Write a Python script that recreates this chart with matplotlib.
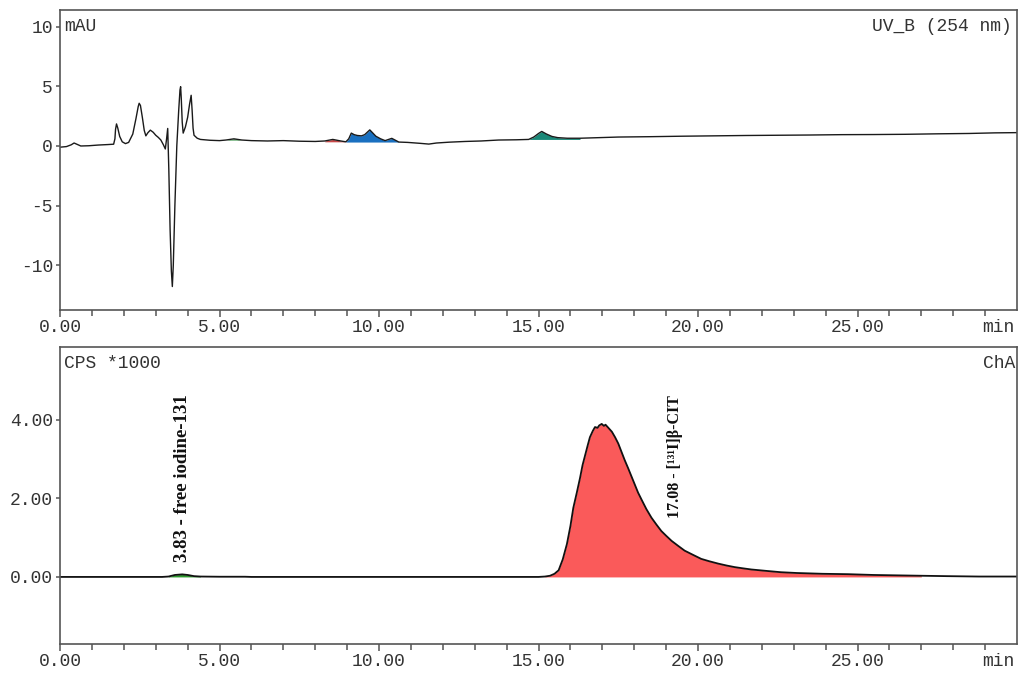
import numpy as np
import matplotlib
matplotlib.use("Agg")
import matplotlib.pyplot as plt

# UV trace (254 nm), time in min, signal in mAU
uv_time = [0.00, 0.20, 0.35, 0.44, 0.55, 0.65, 0.90, 1.20, 1.50, 1.68, 1.72, 1.74, 1.77, 1.81, 1.87,
           1.95, 2.05, 2.15, 2.28, 2.38, 2.45, 2.48, 2.52, 2.58, 2.64, 2.69, 2.75, 2.83, 2.92, 3.00,
           3.08, 3.16, 3.24, 3.30, 3.34, 3.375, 3.41, 3.45, 3.49, 3.52, 3.55, 3.60, 3.66, 3.72, 3.76,
           3.78, 3.80, 3.83, 3.86, 3.93, 4.00, 4.06, 4.11, 4.14, 4.17, 4.20, 4.30, 4.40, 4.70, 5.00,
           5.20, 5.45, 5.70, 6.00, 6.50, 7.00, 7.50, 8.00, 8.30, 8.55, 8.80, 8.96, 9.05, 9.13, 9.22,
           9.32, 9.45, 9.55, 9.65, 9.71, 9.80, 9.90, 10.05, 10.19, 10.30, 10.40, 10.50, 10.62, 10.90,
           11.30, 11.56, 11.80, 12.20, 12.70, 13.20, 13.75, 14.30, 14.69, 14.85, 15.00, 15.10, 15.25,
           15.42, 15.60, 15.90, 16.30, 16.90, 17.50, 18.50, 19.50, 20.50, 21.50, 22.50, 23.50, 24.50,
           25.50, 26.50, 27.50, 28.50, 29.30, 30.00]
uv_mau = [-0.10, -0.05, 0.10, 0.25, 0.12, 0.00, 0.02, 0.08, 0.12, 0.15, 0.60, 1.40, 1.85, 1.50, 0.80,
          0.35, 0.20, 0.30, 1.00, 2.30, 3.30, 3.58, 3.40, 2.40, 1.30, 0.85, 1.10, 1.33, 1.15, 0.90,
          0.72, 0.50, 0.10, -0.25, 0.60, 1.47, -2.00, -7.00, -10.50, -11.78, -10.00, -5.00, 0.00, 3.00, 4.70,
          4.97, 4.00, 2.00, 1.08, 1.60, 2.40, 3.50, 4.25, 3.00, 1.50, 0.90, 0.65, 0.55, 0.48, 0.45,
          0.50, 0.60, 0.50, 0.45, 0.42, 0.45, 0.40, 0.38, 0.42, 0.55, 0.42, 0.35, 0.60, 1.08, 0.95,
          0.88, 0.85, 0.95, 1.20, 1.35, 1.10, 0.82, 0.60, 0.45, 0.55, 0.64, 0.50, 0.33, 0.30,
          0.22, 0.16, 0.25, 0.32, 0.38, 0.42, 0.50, 0.52, 0.55, 0.75, 1.05, 1.22, 1.00,
          0.80, 0.70, 0.65, 0.65, 0.70, 0.75, 0.78, 0.82, 0.85, 0.88, 0.90, 0.92, 0.95,
          0.96, 0.98, 1.02, 1.05, 1.10, 1.12]

# integrated UV peaks: (start, end, colour)
uv_peaks = [(5.20, 5.70, "#2a8a3a"), (8.30, 8.96, "#c84848"),
            (8.96, 10.62, "#1a70c0"), (14.69, 16.30, "#1a8878")]

# radio trace, CPS * 1000
rad_time = [0.0, 3.2, 3.4, 3.6, 3.83, 4.0, 4.2, 4.4, 5.0, 5.8, 6.0, 15.0, 15.2, 15.36, 15.5,
            15.63, 15.76, 15.89, 16.0, 16.09, 16.2, 16.30, 16.38, 16.46, 16.54, 16.61, 16.70,
            16.77, 16.85, 16.90, 16.98, 17.05, 17.10, 17.19, 17.30, 17.40, 17.50, 17.60, 17.70,
            17.81, 17.92, 18.02, 18.12, 18.23, 18.38, 18.54, 18.70, 18.85, 19.0, 19.17, 19.38,
            19.58, 19.85, 20.10, 20.35, 20.63, 20.9, 21.15, 21.4, 21.67, 22.19, 22.6, 23.1, 23.9,
            24.7, 25.5, 26.25, 27.0, 27.8, 28.8, 30.0]
rad_cps = [0.0, 0.0, 0.01, 0.05, 0.065, 0.05, 0.02, 0.01, 0.005, 0.005, 0.0, 0.0, 0.01, 0.03, 0.08,
           0.17, 0.45, 0.84, 1.30, 1.76, 2.15, 2.52, 2.85, 3.10, 3.35, 3.56, 3.72,
           3.82, 3.80, 3.86, 3.90, 3.85, 3.88, 3.80, 3.70, 3.56, 3.40, 3.19, 2.98,
           2.77, 2.55, 2.35, 2.15, 1.97, 1.73, 1.51, 1.33, 1.17, 1.05, 0.92, 0.79,
           0.67, 0.56, 0.46, 0.40, 0.34, 0.29, 0.25, 0.22, 0.19, 0.15, 0.12, 0.10, 0.08,
           0.07, 0.05, 0.04, 0.03, 0.02, 0.01, 0.01]

rad_peaks = [(3.3, 4.4, "#2e9a2e"), (15.2, 27.0, "#fa5a5a")]

x_major = [0, 5, 10, 15, 20, 25]
x_labels = ["0.00", "5.00", "10.00", "15.00", "20.00", "25.00"]

plt.rcParams["axes.unicode_minus"] = False
mono = "Liberation Mono"
txt_col = "#333333"
frame_col = "#555555"
fs = 13


def style_axis(ax):
    for s in ax.spines.values():
        s.set_color(frame_col)
        s.set_linewidth(1.2)
    ax.set_xlim(0, 30)
    ax.set_xticks(x_major)
    ax.set_xticklabels(x_labels)
    ax.set_xticks(range(0, 30), minor=True)
    ax.tick_params(axis="x", which="major", length=5, width=1.1, color=frame_col, pad=1.5)
    ax.tick_params(axis="x", which="minor", length=4, width=1.1, color=frame_col)
    ax.tick_params(axis="y", length=3, width=1.1, color=frame_col, pad=2)
    ax.tick_params(labelsize=fs, labelcolor=txt_col)
    for lab in ax.get_xticklabels() + ax.get_yticklabels():
        lab.set_family(mono)
    ax.annotate("min", xy=(30, 0), xycoords=("data", "axes fraction"),
                xytext=(-2, -6.5), textcoords="offset points", ha="right", va="top",
                fontsize=fs, color=txt_col, family=mono)


fig = plt.figure(figsize=(10.3, 6.75), dpi=100)
ax1 = fig.add_axes([0.0583, 0.5407, 0.9291, 0.4445])
ax2 = fig.add_axes([0.0583, 0.0459, 0.9291, 0.4400])

t1 = np.array(uv_time)
v1 = np.array(uv_mau)
for a, b, c in uv_peaks:
    m = (t1 >= a) & (t1 <= b)
    base = min(v1[m][0], v1[m][-1])
    ax1.fill_between(t1[m], v1[m], base, color=c, lw=0)
ax1.plot(t1, v1, color="#1a1a1a", lw=1.0)
ax1.set_ylim(-13.75, 11.4)
ax1.set_yticks([10, 5, 0, -5, -10])
ax1.set_yticklabels(["10", "5", "0", "-5", "-10"])
style_axis(ax1)
ax1.text(0.004, 10, "mAU", transform=ax1.get_yaxis_transform(), va="center", ha="left",
         fontsize=fs, color=txt_col, family=mono)
ax1.text(0.995, 10, "UV_B (254 nm)", transform=ax1.get_yaxis_transform(), va="center", ha="right",
         fontsize=fs, color=txt_col, family=mono)

t2 = np.array(rad_time)
v2 = np.array(rad_cps)
for a, b, c in rad_peaks:
    m = (t2 >= a) & (t2 <= b)
    ax2.fill_between(t2[m], v2[m], 0, color=c, lw=0)
ax2.plot(t2, v2, color="#111111", lw=1.3)
ax2.set_ylim(-1.71, 5.86)
ax2.set_yticks([0, 2, 4])
ax2.set_yticklabels(["0.00", "2.00", "4.00"])
style_axis(ax2)
ax2.text(0.004, 5.45, "CPS *1000", transform=ax2.get_yaxis_transform(), va="center", ha="left",
         fontsize=fs, color=txt_col, family=mono)
ax2.text(0.998, 5.45, "ChA", transform=ax2.get_yaxis_transform(), va="center", ha="right",
         fontsize=fs, color=txt_col, family=mono)

ax2.text(3.85, 0.38, "3.83 - free iodine-131", rotation=90, ha="center", va="bottom",
         fontsize=13.5, fontweight="bold", family="Liberation Serif", color="#111111")
ax2.text(19.28, 1.51, "17.08 - [\u00b9\u00b3\u00b9I]\u03b2-CIT", rotation=90, ha="center", va="bottom",
         fontsize=11.5, fontweight="bold", family="Liberation Serif", color="#111111")

fig.savefig("out.png", dpi=100)
